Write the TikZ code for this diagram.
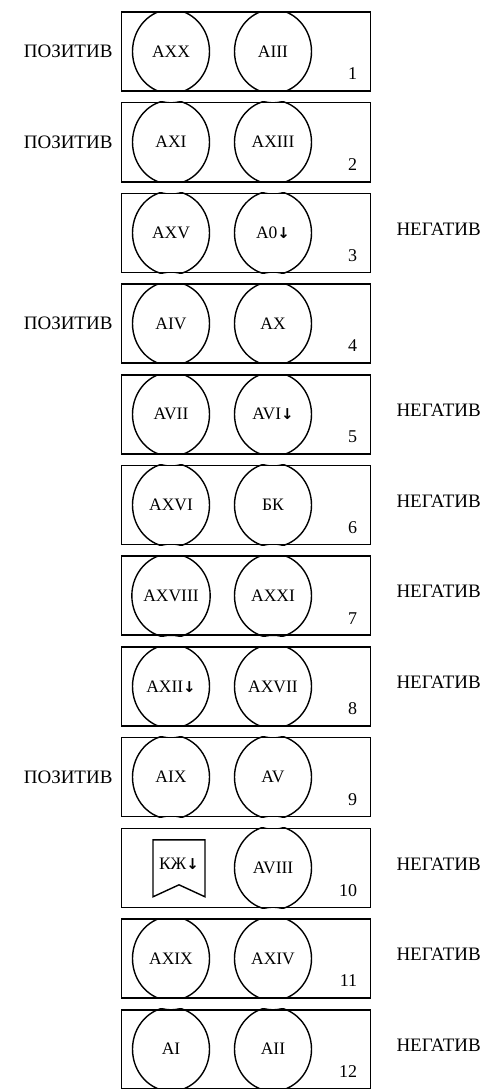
\documentclass[tikz,border=0pt]{standalone}
\usepackage{fontspec}
\setmainfont{Liberation Serif}
\newfontfamily\arrowfont{DejaVu Sans}
\usetikzlibrary{positioning,shapes.geometric}
\tikzset{
  panel/.style={draw,line width=1.6pt,minimum width=249pt,minimum height=79pt,inner sep=0pt},
  ring/.style={draw,ellipse,line width=1.4pt,minimum width=77pt,minimum height=84pt,inner sep=0pt,
    font=\fontsize{17.5}{17.5}\selectfont},
  flag/.style={inner sep=0pt,font=\fontsize{17.5}{17.5}\selectfont},
  tag/.style={inner sep=0pt,font=\fontsize{19}{19}\selectfont},
  num/.style={inner sep=0pt,anchor=base east,font=\fontsize{18}{18}\selectfont}
}
\newcommand{\dn}{{\arrowfont\bfseries\fontsize{15}{15}\selectfont ↓}}

\begin{document}
\begin{tikzpicture}[x=1pt,y=1pt]
  \useasboundingbox (0,0) rectangle (490,-1089);
  % twelve frames, top to bottom
  \foreach \n/\lt/\rt/\sd in {1/AXX/AIII/1, 2/AXI/AXIII/1, 3/AXV/A0\dn/0, 4/AIV/AX/1,
      5/AVII/AVI\dn/0, 6/AXVI/БК/0, 7/AXVIII/AXXI/0, 8/AXII\dn/AXVII/0,
      9/AIX/AV/1, 10//AVIII/0, 11/AXIX/AXIV/0, 12/AI/AII/0} {
    \node[panel] (b\n) at (246,{-51.5-(\n-1)*90.7}) {};
    \begin{scope}
      \clip (b\n.south west) rectangle (b\n.north east);
      \ifnum\n=10\else
        \node[ring] (l\n) at ([xshift=-75pt]b\n.center) {\lt};
      \fi
      \node[ring] (r\n) at ([xshift=27pt]b\n.center) {\rt};
    \end{scope}
    \node[num] (n\n) at ([xshift=-14pt,yshift=12pt]b\n.south east) {\n};
    \ifnum\sd=1
      \node[tag,left=8pt of b\n] (s\n) {ПОЗИТИВ};
    \else
      \node[tag,anchor=west,yshift=4pt] (s\n) at ([xshift=25pt]b\n.east) {НЕГАТИВ};
    \fi
  }
  % pennant in frame 10
  \node[flag] (kz) at ([xshift=-67pt,yshift=4pt]b10.center) {КЖ\dn};
  \draw[line width=1.4pt] ([shift={(-26pt,24pt)}]kz.center) -- ([shift={(26pt,24pt)}]kz.center)
    -- ([shift={(26pt,-33pt)}]kz.center) -- ([shift={(0pt,-21pt)}]kz.center)
    -- ([shift={(-26pt,-33pt)}]kz.center) -- cycle;
\end{tikzpicture}
\end{document}
